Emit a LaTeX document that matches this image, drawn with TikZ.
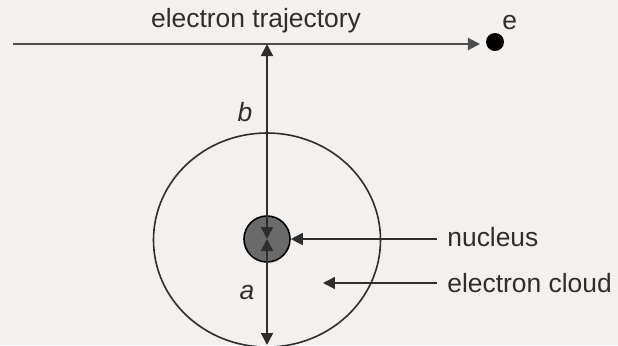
\documentclass[tikz,border=0pt]{standalone}
\usepackage{fontspec}
\setmainfont{Liberation Sans}
\usetikzlibrary{arrows.meta,positioning,shapes.geometric}
\definecolor{paper}{HTML}{F3F0ED}
\definecolor{ink}{HTML}{2E2E2E}
\definecolor{core}{HTML}{6A6A6A}
\tikzset{
  lbl/.style={font=\fontsize{13.2}{16}\selectfont,text=ink,inner sep=0pt},
  pointer/.style={draw=ink,line width=0.8pt,-{Triangle[length=6pt,width=6pt]}},
  span/.style={draw=ink,line width=0.8pt,{Triangle[length=6pt,width=6pt]}-{Triangle[length=6pt,width=6pt]}}
}

\begin{document}
\begin{tikzpicture}[x=0.5pt,y=-0.5pt]
\useasboundingbox (0,0) rectangle (618,345);
\fill[paper] (0,0) rectangle (618,345);
\clip (0,0) rectangle (618,345);
% CLOUD
\node[ellipse,draw=ink,line width=0.8pt,minimum width=227pt*0.5,minimum height=214pt*0.5,inner sep=0pt] (cloud) at (267,240) {};
% NUCLEUS
\node[circle,draw=black,line width=0.8pt,fill=core,minimum size=23pt,inner sep=0pt] (nucleus) at (267,239) {};
% TRAJECTORY
\node[circle,fill=black,minimum size=9pt,inner sep=0pt] (electron) at (495,42) {};
\node[lbl,anchor=south west] (eLbl) at (502,30) {e};
\coordinate (start) at (13,44);
\coordinate (hit) at (267,44);
\coordinate (tipT) at (480,44);
\draw[pointer,line width=1pt,draw=ink!85] (start) -- (tipT);
\node[lbl] (trajLbl) at (256,21) {electron trajectory};
% IMPACT PARAMETER AND RADIUS
\coordinate (rim) at (267,345);
\draw[span] (nucleus.center) -- (hit);
\draw[span] (nucleus.center) -- (rim);
\node[lbl,font=\fontsize{13.2}{16}\selectfont\itshape] (bLbl) at (245,112) {b};
\node[lbl,font=\fontsize{13.2}{16}\selectfont\itshape] (aLbl) at (247,293) {a};
% LABELS
\node[lbl,anchor=west] (nucLbl) at (447,237) {nucleus};
\node[lbl,anchor=west] (cloudLbl) at (447,283) {electron cloud};
\coordinate (nucFoot) at (437,239);
\coordinate (cloudFoot) at (437,283);
\coordinate (cloudTip) at (323,283);
\draw[pointer] (nucFoot) -- (nucleus.east);
\draw[pointer] (cloudFoot) -- (cloudTip);
\end{tikzpicture}
\end{document}
